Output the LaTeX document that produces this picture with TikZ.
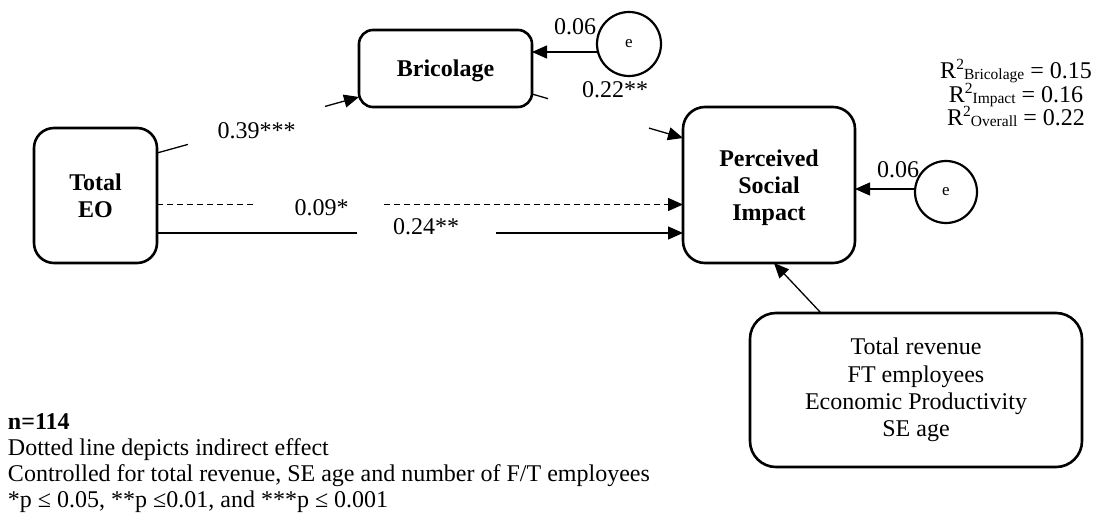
\documentclass[tikz,border=0pt]{standalone}
\usepackage{fontspec}
\setmainfont{Liberation Serif}
\usetikzlibrary{arrows.meta}
\newcommand\mainsize{\fontsize{24}{27.2}\selectfont}
\newcommand\esize{\fontsize{17}{20}\selectfont}
\newcommand\scrsize{\fontsize{15.5}{17}\selectfont}
% R squared with superscript 2 followed by a subscript label
\newcommand\Rsq[1]{R\raisebox{0.38em}{\scrsize 2}\raisebox{-0.03em}{\scrsize #1}}
\begin{document}
\begin{tikzpicture}[x=1pt,y=-1pt,
  every node/.style={inner sep=0pt, outer sep=0pt},
  model/.style={draw, line width=2.6pt, align=center, text depth=0pt, font=\mainsize\bfseries},
  plainbox/.style={draw, line width=2.6pt, align=center, font=\mainsize},
  errc/.style={draw, circle, line width=2.2pt, font=\esize},
  conn/.style={line width=1.3pt},
  arr/.style={conn, -{Triangle[length=15pt,width=13pt]}},
  dashline/.style={dash pattern=on 6pt off 4pt},
  lbl/.style={font=\mainsize},
  note/.style={font=\mainsize, anchor=base west}]

\fill[white] (0,0) rectangle (1099,513);
\useasboundingbox (0,0) rectangle (1099,513);

% variables
\node[model, rounded corners=20pt, minimum width=123pt, minimum height=135pt] (eo) at (95.5,195.5) {Total\\EO};
\node[model, rounded corners=14pt, minimum width=173pt, minimum height=77pt] (bric) at (445.5,68.5) {Bricolage};
\node[model, rounded corners=22pt, minimum width=172pt, minimum height=156pt] (psi) at (769,185) {Perceived\\Social\\Impact};
\node[plainbox, rounded corners=26pt, minimum width=332pt, minimum height=154pt] (ctrl) at (916,390) {Total revenue\\FT employees\\Economic Productivity\\SE age};
\node[errc, minimum size=64pt] (e1) at (629,44) {e};
\node[errc, minimum size=62pt] (e2) at (946,192) {e};

% Total EO -> Bricolage, interrupted around its coefficient
\path (eo.east |- 0,153) -- coordinate[pos=.153] (g1a) coordinate[pos=.832] (g1b) (bric.west |- 0,97);
\draw[conn] (eo.east |- 0,153) -- (g1a);
\draw[arr] (g1b) -- (bric.west |- 0,97);
\node[lbl] (l1) at (256.5,131) {0.39***};

% Bricolage -> Perceived Social Impact
\path (bric.east |- 0,94) -- coordinate[pos=.106] (g2a) coordinate[pos=.775] (g2b) (psi.west |- 0,138);
\draw[conn] (bric.east |- 0,94) -- (g2a);
\draw[arr] (g2b) -- (psi.west |- 0,138);
\node[lbl] (l2) at (615,90) {0.22**};

% indirect effect (dashed)
\path (eo.east |- 0,204.5) -- coordinate[pos=.190] (g3a) coordinate[pos=.432] (g3b) (psi.west |- 0,204.5);
\draw[conn, dashline] (eo.east |- 0,204.5) -- (g3a);
\draw[arr, dashline] (g3b) -- (psi.west |- 0,204.5);
\node[lbl] (l3) at (321.5,208) {0.09*};

% direct effect; its first part is drawn a little heavier
\path (eo.east |- 0,233) -- coordinate[pos=.205] (g4t) coordinate[pos=.380] (g4a) coordinate[pos=.644] (g4b) (psi.west |- 0,233);
\draw[conn] (eo.east |- 0,233) -- (g4a);
\draw[line width=1.9pt] (eo.east |- 0,233) -- (g4t);
\draw[arr] (g4b) -- (psi.west |- 0,233);
\node[lbl] (l4) at (426,227) {0.24**};

% error terms
\draw[arr] (e1.west |- 0,52) -- (bric.east |- 0,52);
\node[lbl] (w1) at (575,27) {0.06};
\draw[arr] (e2.west |- 0,189) -- (psi.east |- 0,189);
\node[lbl] (w2) at (898,170) {0.06};

% controls
\draw[arr] (ctrl.north -| 821,0) -- (psi.south -| 774,0);

% explained variance
\node[lbl, anchor=base] (r1) at (1016,79) {\Rsq{Bricolage} = 0.15};
\node[lbl, anchor=base] (r2) at (1016,102.5) {\Rsq{Impact} = 0.16};
\node[lbl, anchor=base] (r3) at (1016,126) {\Rsq{Overall} = 0.22};

% notes
\node[note, font=\mainsize\bfseries] (n1) at (8,429) {n=114};
\node[note] (n2) at (8,455.5) {Dotted line depicts indirect effect};
\node[note] (n3) at (8,481.5) {Controlled for total revenue, SE age and number of F/T employees};
\node[note] (n4) at (8,507.5) {*p ≤ 0.05, **p ≤0.01, and ***p ≤ 0.001};
\end{tikzpicture}
\end{document}
